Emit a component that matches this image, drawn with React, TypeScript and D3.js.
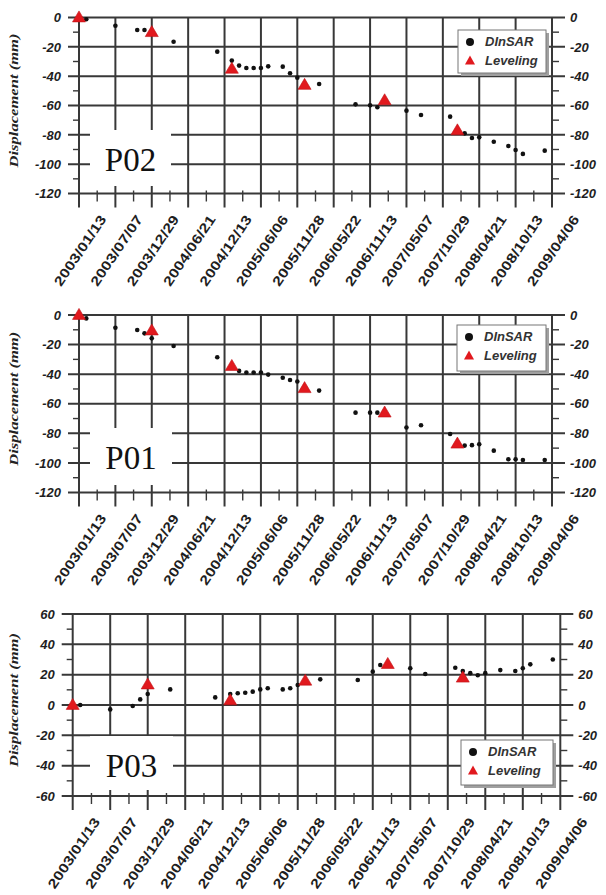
import React from 'react'
import * as d3 from 'd3'

// tick dates on the x axis (every 175 days)
const tickLabels = [
  '2003/01/13', '2003/07/07', '2003/12/29', '2004/06/21', '2004/12/13',
  '2005/06/06', '2005/11/28', '2006/05/22', '2006/11/13', '2007/05/07',
  '2007/10/29', '2008/04/21', '2008/10/13', '2009/04/06',
]

// DInSAR acquisition dates
const insarDates = [
  '2003-01-13', '2003-02-17', '2003-07-07', '2003-10-20', '2003-11-24', '2003-12-29',
  '2004-04-12', '2004-11-08', '2005-01-17', '2005-02-21', '2005-03-28', '2005-05-02',
  '2005-06-06', '2005-07-11', '2005-09-19', '2005-10-24', '2005-11-28', '2006-03-13',
  '2006-09-04', '2006-11-13', '2006-12-18', '2007-05-07', '2007-07-16', '2007-12-03',
  '2008-01-07', '2008-02-11', '2008-03-17', '2008-04-21', '2008-06-30', '2008-09-08',
  '2008-10-13', '2008-11-17', '2009-03-02',
]

const p02Insar = [
  0, -1.2, -5.6, -8.5, -8.5, -10, -16.5, -23.3, -29.4, -32.8, -34.4, -34.4,
  -34.4, -33.3, -33.5, -38, -41, -45.3, -59.2, -59.9, -61.2, -63.5, -66.5, -67.6,
  -77, -79, -82.2, -81.7, -84.7, -87.6, -90.3, -93, -90.8,
]
const p01Insar = [
  0, -2.3, -8.6, -10.1, -12.4, -15.8, -21, -28.6, -34, -37.8, -38.9, -38.9,
  -38.9, -40.3, -42.4, -43.9, -45, -51.1, -66, -66, -66, -76.1, -74.5, -80.4,
  -87, -88.3, -88, -87.4, -91.7, -97.5, -97.5, -98, -98,
]
const p03Insar = [
  0, 0, -2.9, -0.7, 3.7, 7.3, 10.3, 5, 7.2, 7.7, 8.1, 8.8,
  10.3, 11, 10.3, 11, 13.2, 16.9, 16.5, 22, 26.4, 24.2, 20.4, 24.6,
  22.4, 21, 19.6, 21, 23, 22.4, 24.2, 26.8, 30,
]

// Leveling survey dates
const levelDates = ['2003-01-13', '2003-12-29', '2005-01-17', '2006-01-02', '2007-01-22', '2008-01-07']
const p02Level = [0, -10, -35, -46, -56.5, -77]
const p01Level = [0, -10.5, -34.5, -49.5, -66, -87]
const p03Level = [0, 13.5, 3, 16, 27, 18]

const parseTick = d3.timeParse('%Y/%m/%d')
const parseDay = d3.timeParse('%Y-%m-%d')

const RED = '#e1191e'
const GRID = '#383838'
const SANS = '"Liberation Sans", Arial, sans-serif'
const SERIF = '"Liberation Serif", "Times New Roman", serif'

type Box = { x: number; y: number; w: number; h: number }
type PanelProps = {
  name: string
  insar: number[]
  level: number[]
  domain: [number, number]
  left: number
  right: number
  top: number
  bottom: number
  legend: Box
  box: Box
  nameY: number
}

const tri = (x: number, y: number, w: number, h: number) =>
  `M${x - w / 2},${y + h * 0.4}L${x + w / 2},${y + h * 0.4}L${x},${y - h * 0.6}Z`

const Panel = (p: PanelProps) => {
  const ticks = tickLabels.map(t => parseTick(t) as Date)
  const x = d3.scaleTime().domain([ticks[0], ticks[ticks.length - 1]]).range([p.left, p.right])
  const y = d3.scaleLinear().domain(p.domain).range([p.bottom, p.top])
  const yMajor = y.ticks(6)
  const yMinor = y.ticks(12).filter(v => !yMajor.includes(v))
  const xMinor = ticks.slice(1).map((t, i) => (x(ticks[i]) + x(t)) / 2)
  const midY = (p.top + p.bottom) / 2
  const labelY = p.bottom + 57

  return (
    <g>
      {ticks.map((t, i) => (
        <line key={'v' + i} x1={x(t)} x2={x(t)} y1={p.top} y2={p.bottom + 14} stroke={GRID} strokeWidth={2} />
      ))}
      {yMinor.map(v => (
        <g key={'m' + v}>
          <line x1={p.left - 6} x2={p.left} y1={y(v)} y2={y(v)} stroke={GRID} strokeWidth={1.4} />
          <line x1={p.right} x2={p.right + 7} y1={y(v)} y2={y(v)} stroke={GRID} strokeWidth={1.4} />
        </g>
      ))}
      {xMinor.map((mx, i) => (
        <line key={'xm' + i} x1={mx} x2={mx} y1={p.bottom - 3} y2={p.bottom + 8} stroke={GRID} strokeWidth={1.4} />
      ))}

      {/* y tick labels */}
      {yMajor.map(v => (
        <g key={'yl' + v} fontFamily={SANS} fontSize={13} fontWeight="bold" fontStyle="italic" fill="#1e1e1e">
          <text x={p.left - 18} y={y(v)} dy="0.36em" textAnchor="end">{v}</text>
          <text x={p.right + 18} y={y(v)} dy="0.36em" textAnchor="start">{v}</text>
        </g>
      ))}

      {/* x tick labels */}
      {ticks.map((t, i) => (
        <text
          key={'xl' + i}
          transform={`translate(${x(t) + 1},${labelY}) rotate(-56)`}
          textAnchor="middle"
          dy="0.35em"
          fontFamily={SANS}
          fontSize={13.5}
          fontWeight="bold"
          fill="#1e1e1e"
          textLength={82}
          lengthAdjust="spacingAndGlyphs"
        >
          {tickLabels[i]}
        </text>
      ))}

      {/* y title */}
      <text
        transform={`translate(18,${midY - 5}) rotate(-90)`}
        textAnchor="middle"
        fontFamily={SERIF}
        fontSize={13}
        fontWeight="bold"
        fontStyle="italic"
        fill="#222"
        textLength={134}
        lengthAdjust="spacingAndGlyphs"
      >
        Displacement (mm)
      </text>

      {/* horizontal grid, drawn after the vertical one */}
      {yMajor.map(v => (
        <line key={'h' + v} x1={p.left - 11} x2={p.right + 13} y1={y(v)} y2={y(v)} stroke={GRID} strokeWidth={2} />
      ))}

      {/* point name box */}
      <rect x={p.box.x} y={p.box.y} width={p.box.w} height={p.box.h} fill="#fff" />
      <text x={p.box.x + p.box.w / 2} y={p.nameY} textAnchor="middle" fontFamily={SERIF} fontSize={33} fill="#111">
        {p.name}
      </text>

      {/* DInSAR points */}
      {p.insar.map((v, i) => (
        <circle key={'c' + i} cx={x(parseDay(insarDates[i]) as Date)} cy={y(v)} r={2.3} fill="#111" />
      ))}
      {/* Leveling points */}
      {p.level.map((v, i) => (
        <path key={'t' + i} d={tri(x(parseDay(levelDates[i]) as Date), y(v), 13, 11)} fill={RED} stroke="#c01015" strokeWidth={0.6} />
      ))}

      {/* legend */}
      <rect x={p.legend.x + 3} y={p.legend.y + 3} width={p.legend.w} height={p.legend.h} fill="#a0a0a0" />
      <rect x={p.legend.x} y={p.legend.y} width={p.legend.w} height={p.legend.h} fill="#fff" stroke="#777" strokeWidth={1} />
      <circle cx={p.legend.x + 12} cy={p.legend.y + 12} r={4} fill="#111" />
      <path d={tri(p.legend.x + 12, p.legend.y + 31, 10, 9)} fill={RED} />
      <g fontFamily={SANS} fontSize={13} fontWeight="bold" fontStyle="italic" fill="#333">
        <text x={p.legend.x + 27} y={p.legend.y + 16}>DInSAR</text>
        <text x={p.legend.x + 27} y={p.legend.y + 35}>Leveling</text>
      </g>
    </g>
  )
}

export default function App() {
  return (
    <div style={{ position: 'absolute', left: 0, top: 0 }}>
      <svg width={606} height={895} style={{ display: 'block', background: '#fff' }}>
        <Panel
          name="P02"
          insar={p02Insar}
          level={p02Level}
          domain={[-120, 0]}
          left={79}
          right={552}
          top={17.5}
          bottom={193.5}
          legend={{ x: 458, y: 30, w: 88, h: 43 }}
          box={{ x: 90, y: 130, w: 81, h: 56 }}
          nameY={171}
        />
        <Panel
          name="P01"
          insar={p01Insar}
          level={p01Level}
          domain={[-120, 0]}
          left={79}
          right={552}
          top={315}
          bottom={492.5}
          legend={{ x: 457, y: 325, w: 89, h: 46 }}
          box={{ x: 90, y: 428, w: 82, h: 57 }}
          nameY={468.5}
        />
        <Panel
          name="P03"
          insar={p03Insar}
          level={p03Level}
          domain={[-60, 60]}
          left={72.7}
          right={560.3}
          top={614}
          bottom={796}
          legend={{ x: 461, y: 740, w: 92, h: 45 }}
          box={{ x: 90, y: 736, w: 83, h: 54 }}
          nameY={777}
        />
      </svg>
    </div>
  )
}
